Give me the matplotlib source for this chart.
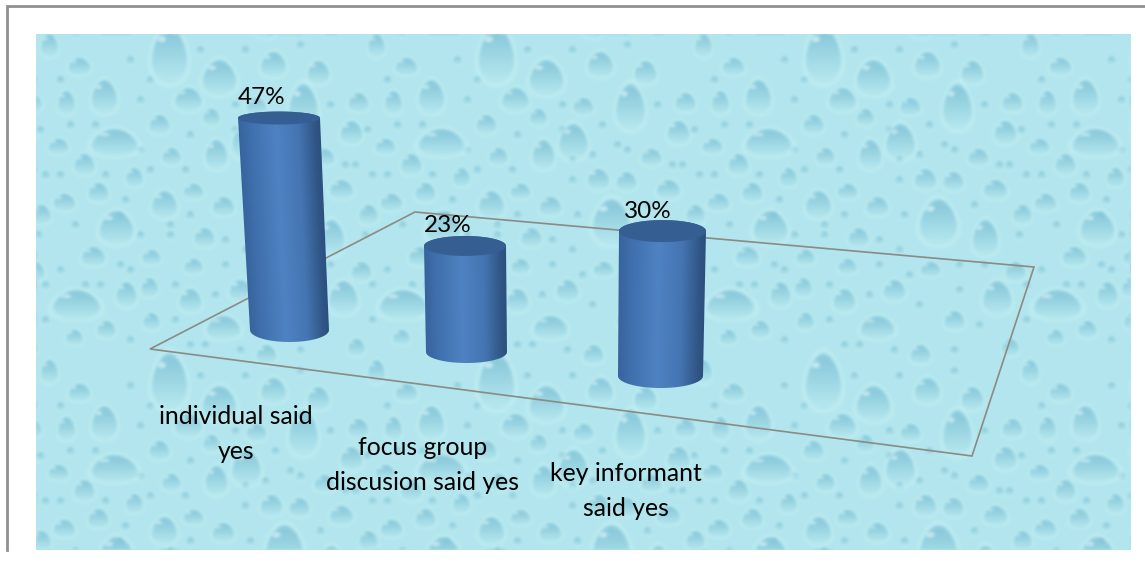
import numpy as np
import matplotlib
matplotlib.use("Agg")
import matplotlib.pyplot as plt
from matplotlib.patches import Polygon

W, H = 1145, 574

CATEGORIES = ["individual said\nyes", "focus group\ndiscusion said yes", "key informant\nsaid yes"]
VALUES = [47, 23, 30]

# bar layout in picture pixels, the 3d view makes nearer bars bigger
BASE_X = [289.5, 466.5, 660.5]
BASE_Y = [330, 352, 376]
PX_PER_PCT = [4.51, 4.61, 4.83]
TOP_X = [279, 465, 662.5]
TOP_HALF_W = [41, 41, 43.5]
BASE_HALF_W = [39.5, 40.5, 42.5]
TOP_SEMI = [6.5, 10, 11]
BASE_SEMI = [12, 11, 12]
VALUE_LABEL_XY = [(262, 97), (448, 226), (648, 212)]
CATEGORY_LABEL_XY = [(236, 434), (423, 465), (626, 491)]

FLOOR = [(150, 349), (415, 212), (1034, 267), (972, 456)]
PANEL = (36, 1131, 34, 550)
TILE_W, TILE_H = 327, 326

# water drops of one background tile: x, y, half width, half height
DROPS = [
    (169, 54, 21, 28), (219, 77, 20, 18), (273, 64, 15, 13), (318, 72, 13, 12),
    (104, 96, 15, 17), (79, 66, 13, 9), (188, 99, 16, 12), (303, 106, 17, 23),
    (256, 106, 12, 9), (358, 102, 12, 10), (159, 124, 12, 10), (211, 117, 10, 9),
    (66, 102, 10, 12), (114, 142, 27, 14), (246, 141, 17, 18), (216, 154, 13, 15),
    (351, 132, 13, 12), (171, 156, 11, 9), (324, 157, 12, 9), (58, 146, 12, 8),
    (84, 164, 12, 11), (134, 177, 10, 10), (271, 179, 13, 11), (299, 181, 12, 10),
    (341, 189, 14, 10), (98, 192, 12, 10), (193, 191, 12, 8), (164, 204, 15, 14),
    (223, 206, 13, 10), (64, 202, 13, 9), (116, 227, 20, 17), (284, 221, 22, 23),
    (331, 237, 15, 18), (204, 237, 12, 10), (41, 214, 11, 10), (93, 256, 14, 10),
    (151, 257, 11, 8), (193, 266, 11, 8), (276, 269, 12, 8), (76, 304, 28, 15),
    (126, 294, 12, 13), (149, 287, 10, 10), (151, 321, 10, 9), (106, 329, 11, 9),
    (74, 337, 10, 8), (49, 45, 10, 12), (343, 297, 17, 17), (361, 271, 12, 10),
    (223, 327, 20, 12), (266, 354, 12, 10), (356, 347, 10, 9), (240, 290, 13, 11),
    (300, 320, 12, 10), (190, 300, 13, 12),
]
SMALL_DROPS = [
    (130, 60), (60, 80), (245, 50), (140, 100), (235, 105), (290, 145), (330, 105),
    (150, 170), (190, 135), (70, 125), (105, 175), (245, 180), (320, 205), (190, 215),
    (250, 215), (140, 235), (75, 225), (245, 250), (170, 235), (60, 270), (120, 265),
    (225, 265), (305, 265), (175, 285), (215, 295), (265, 305), (100, 285), (130, 340),
    (190, 345), (300, 350), (45, 320), (325, 325), (45, 175), (355, 165), (275, 125),
    (150, 80), (200, 50), (300, 45), (95, 125), (140, 150), (235, 130), (265, 155),
    (125, 200), (245, 160), (300, 150), (185, 170), (120, 215), (170, 225), (225, 240),
    (255, 275), (305, 290), (175, 320), (130, 270), (60, 175), (40, 130), (45, 285),
    (85, 285), (205, 345), (240, 350), (330, 265), (345, 165), (365, 235),
]


def add_drop(img, xx, yy, cx, cy, rx, ry):
    x0, x1 = max(int(cx - rx * 1.4), 0), min(int(cx + rx * 1.4) + 1, img.shape[1])
    y0, y1 = max(int(cy - ry * 1.4), 0), min(int(cy + ry * 1.4) + 1, img.shape[0])
    if x0 >= x1 or y0 >= y1:
        return
    dy = (yy[y0:y1, x0:x1] - cy) / ry
    # dome shape, narrow on top and wide below
    dx = (xx[y0:y1, x0:x1] - cx) / (rx * np.clip(0.84 + 0.2 * dy, 0.6, 1.1))
    d = dx ** 2 + dy ** 2
    dark = np.array([0.50, 0.76, 0.84])
    pale = np.array([0.80, 0.96, 0.97])
    rim = np.clip(1 - np.abs(d - 1.2) / 0.35, 0, 1) * 0.5
    sub = img[y0:y1, x0:x1]
    sub += (pale - sub) * rim[..., None]
    # darkest near the top, gone before the lower edge
    shade = np.clip(0.42 - 0.52 * dy, 0, 0.72) * np.clip((1 - d) * 5, 0, 1)
    sub += (dark - sub) * shade[..., None]
    if rx > 9:
        hx = (dx + 0.5) / 0.26
        hy = (dy + 0.55) / 0.12
        spot = (hx ** 2 + hy ** 2 < 1) * 0.6
        sub += (np.array([0.90, 0.98, 0.99]) - sub) * spot[..., None]


def water_background():
    left, right, top, bottom = PANEL
    img = np.ones((bottom - top, right - left, 3)) * np.array([0.70, 0.90, 0.93])
    yy, xx = np.mgrid[0:bottom - top, 0:right - left]
    for i in range(-1, 4):
        for j in range(-1, 3):
            ox, oy = i * TILE_W - left, j * TILE_H - top
            for sx, sy in SMALL_DROPS:
                add_drop(img, xx, yy, sx + ox, sy + oy, 5, 4.5)
            for cx, cy, rx, ry in DROPS:
                add_drop(img, xx, yy, cx + ox, cy + oy, rx, ry)
    # the source picture is soft, blur it a bit
    for _ in range(5):
        img = (img + np.roll(img, 1, 0) + np.roll(img, -1, 0)
               + np.roll(img, 1, 1) + np.roll(img, -1, 1)) / 5
    return img


def draw_cylinder(ax, i):
    cx_b, y_b = BASE_X[i], BASE_Y[i]
    cx_t, y_t = TOP_X[i], y_b - VALUES[i] * PX_PER_PCT[i]
    hw_t, hw_b = TOP_HALF_W[i], BASE_HALF_W[i]
    semi_t, semi_b = TOP_SEMI[i], BASE_SEMI[i]

    a = np.linspace(0, np.pi, 60)
    bottom_arc = np.column_stack([cx_b - hw_b * np.cos(a), y_b + semi_b * np.sin(a)])
    top_arc = np.column_stack([cx_t + hw_t * np.cos(a), y_t - semi_t * np.sin(a)])
    body = Polygon(np.vstack([bottom_arc, top_arc]), closed=True, transform=ax.transData)

    x0, x1 = min(cx_t - hw_t, cx_b - hw_b) - 1, max(cx_t + hw_t, cx_b + hw_b) + 1
    y0, y1 = y_t - semi_t - 1, y_b + semi_b + 1
    px = np.arange(int(x0), int(x1) + 1)
    py = np.arange(int(y0), int(y1) + 1)
    gx, gy = np.meshgrid(px, py)
    f = np.clip((gy - y_t) / (y_b - y_t), 0, 1)
    left = (cx_t - hw_t) + f * ((cx_b - hw_b) - (cx_t - hw_t))
    width = 2 * (hw_t + f * (hw_b - hw_t))
    u = np.clip((gx - left) / width, 0, 1)
    stops = [0, 0.15, 0.45, 0.72, 0.92, 1]
    reds = [0.22, 0.25, 0.31, 0.27, 0.19, 0.17]
    greens = [0.39, 0.44, 0.51, 0.46, 0.34, 0.31]
    blues = [0.62, 0.68, 0.76, 0.70, 0.53, 0.49]
    rgb = np.dstack([np.interp(u, stops, c) for c in (reds, greens, blues)])
    im = ax.imshow(rgb, extent=(px[0], px[-1] + 1, py[-1] + 1, py[0]), zorder=3,
                   interpolation="bilinear", aspect="auto")
    im.set_clip_path(body)

    ang = np.linspace(0, 2 * np.pi, 80)
    lid = np.column_stack([cx_t + hw_t * np.cos(ang), y_t + semi_t * np.sin(ang)])
    ax.add_patch(Polygon(lid, closed=True, facecolor="#355f92", edgecolor="none", zorder=4))


def main():
    plt.rcParams["font.family"] = ["Lato", "DejaVu Sans"]
    fig = plt.figure(figsize=(W / 100, H / 100), dpi=100, facecolor="white")
    ax = fig.add_axes([0, 0, 1, 1])

    left, right, top, bottom = PANEL
    ax.imshow(water_background(), extent=(left, right, bottom, top), zorder=1,
              interpolation="bilinear", aspect="auto")

    # page border of the screenshot
    ax.plot([7, 7, W], [550, 5.5, 5.5], color="#8f8f8f", lw=2, zorder=1, solid_joinstyle="miter")

    ax.add_patch(Polygon(FLOOR, closed=True, fill=False, edgecolor="#8a8b85", lw=1.2, zorder=2))

    for i in range(len(VALUES)):
        draw_cylinder(ax, i)
        x, y = VALUE_LABEL_XY[i]
        ax.text(x, y, f"{VALUES[i]}%", ha="center", va="center", fontsize=17.5,
                color="black", zorder=5)
        x, y = CATEGORY_LABEL_XY[i]
        ax.text(x, y, CATEGORIES[i], ha="center", va="center", fontsize=17.8,
                linespacing=1.65, color="black", zorder=5)

    ax.set_xlim(0, W)
    ax.set_ylim(H, 0)
    ax.axis("off")
    fig.savefig("out.png", dpi=100, facecolor="white")
    plt.close(fig)


if __name__ == "__main__":
    main()
